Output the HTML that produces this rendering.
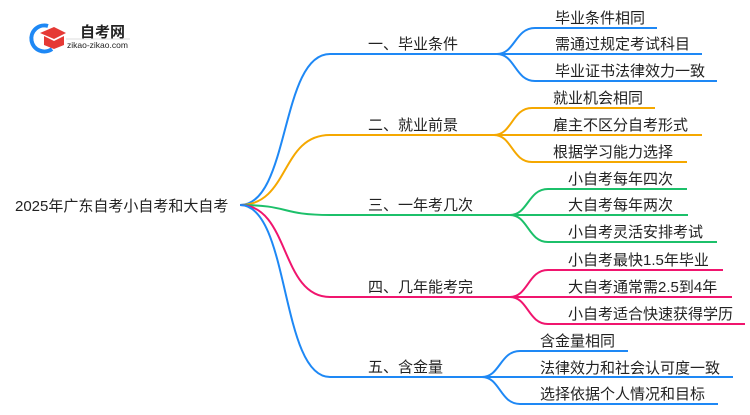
<!DOCTYPE html>
<html><head><meta charset="utf-8"><style>
body{margin:0;width:750px;height:410px;background:#fff;overflow:hidden}
text{font-family:"Liberation Sans","Noto Sans CJK SC",sans-serif;fill:#222}
</style></head><body>
<svg width="750" height="410" viewBox="0 0 750 410" xmlns="http://www.w3.org/2000/svg">
<g fill="none" stroke-width="2">
<path d="M240 205 C290 205 280 54 330 54 L497 54" stroke="#1e88f5"/>
<path d="M240 205 C290 205 280 135 330 135 L494 135" stroke="#f5a800"/>
<path d="M240 205 C290 205 280 215 330 215 L510 215" stroke="#1cc06a"/>
<path d="M240 205 C290 205 280 297 330 297 L510 297" stroke="#f0156e"/>
<path d="M240 205 C290 205 280 377 330 377 L482 377" stroke="#1e88f5"/>
<g stroke="#1e88f5">
<path d="M497 54 C515 54 515 28 535 28 L657 28"/><path d="M497 54 L702 54"/><path d="M497 54 C515 54 515 81 535 81 L717 81"/>
</g>
<g stroke="#f5a800">
<path d="M494 135 C512 135 512 108 532 108 L655 108"/><path d="M494 135 L702 135"/><path d="M494 135 C512 135 512 162 532 162 L687 162"/>
</g>
<g stroke="#1cc06a">
<path d="M510 215 C528 215 528 189 548 189 L687 189"/><path d="M510 215 L688 215"/><path d="M510 215 C528 215 528 242 548 242 L717 242"/>
</g>
<g stroke="#f0156e">
<path d="M510 297 C528 297 528 270 548 270 L723 270"/><path d="M510 297 L732 297"/><path d="M510 297 C528 297 528 324 548 324 L745 324"/>
</g>
<g stroke="#1e88f5">
<path d="M482 377 C500 377 500 351 520 351 L628 351"/><path d="M482 377 L733 377"/><path d="M482 377 C500 377 500 404 520 404 L718 404"/>
</g>
</g>
<path d="M48 26 A13 13 0 1 0 52 49" fill="none" stroke="#1e88f5" stroke-width="4"/>
<path d="M40 33 L54 27 L66 33 L54 39 Z" fill="#e53935"/>
<path d="M44 36 L44 45 L54 49 L64 45 L64 36 L54 41 Z" fill="#e53935"/>
<text x="80" y="37" font-size="15" font-weight="bold" fill="#333">自考网</text>
<line x1="66" y1="39" x2="130" y2="39" stroke="#ddd"/>
<text x="67" y="48" font-size="8.5" fill="#555">zikao-zikao.com</text>
<text x="15" y="211" font-size="15">2025年广东自考小自考和大自考</text>
<g font-size="15">
<text x="368" y="49">一、毕业条件</text>
<text x="368" y="130">二、就业前景</text>
<text x="368" y="210">三、一年考几次</text>
<text x="368" y="292">四、几年能考完</text>
<text x="368" y="372">五、含金量</text>
<text x="555" y="23">毕业条件相同</text>
<text x="555" y="49">需通过规定考试科目</text>
<text x="555" y="76">毕业证书法律效力一致</text>
<text x="553" y="103">就业机会相同</text>
<text x="553" y="130">雇主不区分自考形式</text>
<text x="553" y="157">根据学习能力选择</text>
<text x="568" y="184">小自考每年四次</text>
<text x="568" y="210">大自考每年两次</text>
<text x="568" y="237">小自考灵活安排考试</text>
<text x="568" y="265">小自考最快1.5年毕业</text>
<text x="568" y="292">大自考通常需2.5到4年</text>
<text x="568" y="319">小自考适合快速获得学历</text>
<text x="540" y="346">含金量相同</text>
<text x="540" y="373">法律效力和社会认可度一致</text>
<text x="540" y="399">选择依据个人情况和目标</text>
</g>
</svg>
</body></html>
